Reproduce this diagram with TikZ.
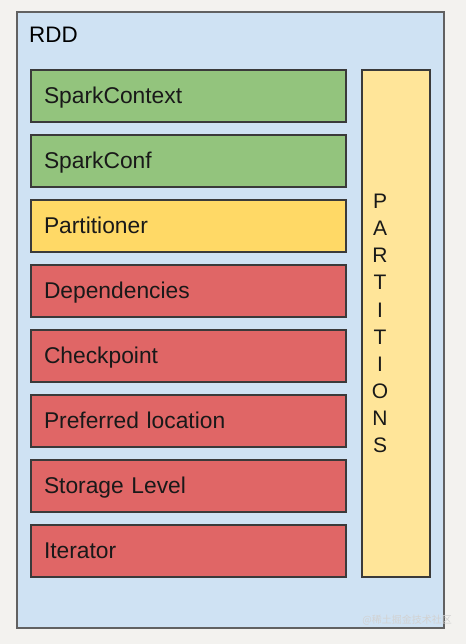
\documentclass[tikz,border=0pt]{standalone}
\usepackage{fontspec}
\setmainfont{Liberation Sans}
\newfontfamily\cjkfont{Noto Sans CJK SC}
\usepackage{xcolor}
\usetikzlibrary{positioning}
\definecolor{pagebg}{HTML}{F3F2EF}
\definecolor{rddblue}{HTML}{CFE2F3}
\definecolor{sparkgreen}{HTML}{93C47D}
\definecolor{partyellow}{HTML}{FFD966}
\definecolor{paleyellow}{HTML}{FFE599}
\definecolor{deprred}{HTML}{E06666}
\definecolor{edgegray}{HTML}{3A3A3A}
\tikzset{
    x=1pt, y=-1pt, % pixel grid, y grows downwards
    node distance=13pt, % gap between two rows
    field/.style={draw=edgegray, line width=1.2pt, outer sep=0pt, minimum width=315pt, minimum height=52pt,
        text width=289pt, text height=16.3pt, text depth=1pt, inner xsep=13pt, align=left, text=black!90,
        font=\fontsize{22.8}{26}\selectfont}, % one row inside the rdd
    frame/.style={draw=edgegray!80, line width=1.4pt, outer sep=0pt, inner sep=0pt}, % plain boxes
}

\begin{document}
\begin{tikzpicture}
    \fill[pagebg] (0,0) rectangle (466,644);
    \useasboundingbox (0,0) rectangle (466,644);

    \node[frame, fill=rddblue, minimum width=427pt, minimum height=616pt, anchor=north west] (rdd) at (17,12) {};
    \node[anchor=base west, font=\fontsize{22.4}{26}\selectfont, inner sep=0pt] (rddname) at (29,43) {RDD};

    \node[field, fill=sparkgreen, anchor=north west] (ctx) at (31,70) {SparkContext};
    \node[field, fill=sparkgreen] (conf) [below=of ctx] {SparkConf};
    \node[field, fill=partyellow] (partitioner) [below=of conf] {Partitioner};
    \node[field, fill=deprred] (deps) [below=of partitioner] {Dependencies};
    \node[field, fill=deprred] (checkpoint) [below=of deps] {Checkpoint};
    \node[field, fill=deprred] (prefloc) [below=of checkpoint] {Preferred location};
    \node[field, fill=deprred] (storage) [below=of prefloc] {Storage Level};
    \node[field, fill=deprred] (iter) [below=of storage] {Iterator};

    \node[frame, draw=edgegray, line width=1.2pt, fill=paleyellow, minimum width=68pt, minimum height=507pt, anchor=north west] (parts) at (362,70) {};
    \node[align=center, inner sep=0pt, text=black!90, font=\fontsize{21}{27.1}\selectfont] (partsname)
        at ([xshift=-16pt]parts.center) {P\\A\\R\\T\\I\\T\\I\\O\\N\\S};

    \node[anchor=east, inner sep=0pt, text=white!65!gray, font=\cjkfont\fontsize{10}{12}\selectfont] (mark) at (452,620) {@稀土掘金技术社区};
\end{tikzpicture}
\end{document}
